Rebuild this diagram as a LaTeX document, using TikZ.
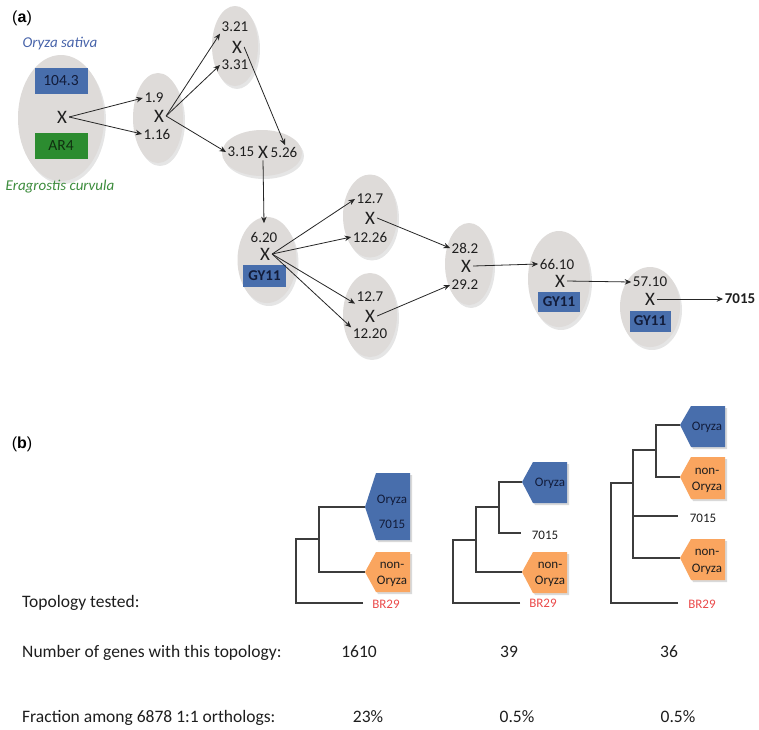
\documentclass[tikz,border=0pt]{standalone}
\usepackage{fontspec}
\setmainfont{Carlito}
\newfontfamily\arialfont{Liberation Sans}
\usetikzlibrary{shapes.geometric,arrows.meta}
\definecolor{ellgray}{RGB}{222,219,217}
\definecolor{boxblue}{RGB}{72,110,172}
\definecolor{navy}{RGB}{18,28,58}
\definecolor{boxgreen}{RGB}{44,140,48}
\definecolor{dkgreen}{RGB}{16,48,16}
\definecolor{orgblue}{RGB}{72,100,170}
\definecolor{egreen}{RGB}{60,140,60}
\definecolor{porange}{RGB}{250,165,95}
\definecolor{brred}{RGB}{235,75,75}
\definecolor{treeline}{RGB}{60,60,60}
\definecolor{txt}{RGB}{30,30,30}
\newcommand\pentshape[5]{%
  \fill[black,opacity=0.15] (#2+2,#3+2) -- (#2+13,#4+2) -- (#2+47,#4+2) -- (#2+47,#5+2) -- (#2+13,#5+2) -- cycle;
  \fill[#1] (#2,#3) -- (#2+11,#4) -- (#2+45,#4) -- (#2+45,#5) -- (#2+11,#5) -- cycle;}
\begin{document}
\begin{tikzpicture}[x=1pt,y=-1pt,
  ell/.style={ellipse, fill=ellgray, inner sep=0pt},
  ellsh/.style={ellipse, fill=black, opacity=0.10, inner sep=0pt},
  num/.style={font=\fontsize{15}{15}\selectfont, inner sep=1.5pt, text=txt},
  cross/.style={font=\fontsize{19}{19}\selectfont, inner sep=2pt, text=txt},
  arr/.style={-{Stealth[length=6.5pt,width=5.5pt]}, line width=0.8pt, black!85},
  gybox/.style={fill=boxblue, text=navy, font=\bfseries\fontsize{15}{15}\selectfont, inner sep=0pt},
  lab/.style={font=\arialfont\fontsize{16}{16}\selectfont, anchor=base, inner sep=0pt},
  row/.style={font=\fontsize{17.5}{17.5}\selectfont, anchor=base west, inner sep=0pt, text=txt},
  rownum/.style={font=\fontsize{17.5}{17.5}\selectfont, anchor=base, inner sep=0pt, text=txt},
  leaf/.style={font=\fontsize{13}{13}\selectfont, anchor=base, inner sep=0pt},
  tree/.style={draw=treeline, line width=1.2pt}
]
\useasboundingbox (0,0) rectangle (759,729);
\fill[white] (0,0) rectangle (759,729);

% ---------- (a) ----------
\node[lab] (la) at (22,22) {(\textbf{a})};

% ellipse shadows
\foreach \cx/\cy/\w/\h in {61/118/86/126, 158/118/50/90, 235/46/46/80, 262/153/80/46,
  267/260/59/86, 370/216/54/83, 370/315/54/84, 469/264/48/82, 559/279/62/96, 650/307/60/80}
  \node[ellsh, minimum width=\w pt, minimum height=\h pt] at (\cx+2,\cy+3) {};

\node[ell, minimum width=86pt, minimum height=126pt] (e1) at (61,118) {};
\node[ell, minimum width=50pt, minimum height=90pt] (e2) at (158,118) {};
\node[ell, minimum width=46pt, minimum height=80pt] (e3) at (235,46) {};
\node[ell, minimum width=80pt, minimum height=46pt] (e4) at (262,153) {};
\node[ell, minimum width=59pt, minimum height=86pt] (e5) at (267,260) {};
\node[ell, minimum width=54pt, minimum height=83pt] (e6) at (370,216) {};
\node[ell, minimum width=54pt, minimum height=84pt] (e7) at (370,315) {};
\node[ell, minimum width=48pt, minimum height=82pt] (e8) at (469,264) {};
\node[ell, minimum width=62pt, minimum height=96pt] (e9) at (559,279) {};
\node[ell, minimum width=60pt, minimum height=80pt] (e10) at (650,307) {};

\node[font=\itshape\fontsize{15}{15}\selectfont, text=orgblue, anchor=base, inner sep=0pt] (os) at (60,47) {Oryza sativa};
\node[font=\itshape\fontsize{15}{15}\selectfont, text=egreen, anchor=base, inner sep=0pt] (ec) at (60,190) {Eragrostis curvula};

\node[fill=boxblue, text=navy, font=\fontsize{15.5}{15.5}\selectfont, minimum width=53pt, minimum height=26pt, inner sep=0pt] (b1) at (61,81) {104.3};
\node[fill=boxgreen, text=dkgreen, font=\fontsize{15.5}{15.5}\selectfont, minimum width=53pt, minimum height=26pt, inner sep=0pt] (b2) at (61,146) {AR4};
\node[cross] (x1) at (62,117) {X};

\node[num] (t19) at (154,98) {1.9};
\node[cross] (x2) at (159,116) {X};
\node[num] (t116) at (157,134) {1.16};

\node[num] (t321) at (235,27) {3.21};
\node[cross] (x3) at (237,47) {X};
\node[num] (t331) at (235,65) {3.31};

\node[num] (t315) at (241,152) {3.15};
\node[cross] (x4) at (263,152) {X};
\node[num] (t526) at (284,152) {5.26};

\node[num] (t620) at (264,237) {6.20};
\node[cross] (x5) at (265,254) {X};
\node[gybox, minimum width=43pt, minimum height=22pt] (g5) at (264.5,276) {GY11};

\node[num] (t127a) at (370,199) {12.7};
\node[cross] (x6) at (370,218) {X};
\node[num] (t1226) at (370,237) {12.26};

\node[num] (t127b) at (370,297) {12.7};
\node[cross] (x7) at (370,316) {X};
\node[num] (t1220) at (370,334) {12.20};

\node[num] (t282) at (465,248) {28.2};
\node[cross] (x8) at (466,266) {X};
\node[num] (t292) at (465,285) {29.2};

\node[num] (t6610) at (557,264) {66.10};
\node[cross] (x9) at (560,281) {X};
\node[gybox, minimum width=42pt, minimum height=20pt] (g9) at (559,302) {GY11};

\node[num] (t5710) at (650,282) {57.10};
\node[cross] (x10) at (650,299) {X};
\node[gybox, minimum width=41pt, minimum height=21pt] (g10) at (650,321) {GY11};

\node[num, font=\bfseries\fontsize{15}{15}\selectfont] (t7015) at (740,299) {7015};

\draw[arr] (x1.east) -- (t19.west);
\draw[arr] (x1.east) -- (t116.west);
\draw[arr] (x2.east) -- (t321.south west);
\draw[arr] (x2.east) -- (t331.west);
\draw[arr] (x2.east) -- (t315.west);
\draw[arr] (x3.east) -- ([xshift=1pt]t526.north);
\draw[arr] (x4.south) -- ([yshift=7pt]t620.north);
\draw[arr] (x5.east) -- (t127a.west);
\draw[arr] (x5.east) -- (t1226.west);
\draw[arr] (x5.east) -- (t127b.south west);
\draw[arr] (x5.east) -- (t1220.north west);
\draw[arr] (x6.east) -- (t282.west);
\draw[arr] (x7.east) -- (t292.west);
\draw[arr] (x8.east) -- (t6610.west);
\draw[arr] (x9.east) -- (t5710.west);
\draw[arr] (x10.east) -- (t7015.west);

% ---------- (b) ----------
\node[lab] (lb) at (22,448) {(\textbf{b})};

% tree 1
\draw[tree] (363,603) -| (296,539) -- (319,539);
\draw[tree] (365,507) -| (319,572) -- (365,572);
\pentshape{boxblue}{365}{507}{473}{540}
\pentshape{porange}{365}{572}{552}{592}
\node[leaf, text=navy] (p1a) at (392,503) {Oryza};
\node[leaf, text=navy] (p1b) at (392,528) {7015};
\node[leaf, text=txt] (p1c) at (392,568) {non-};
\node[leaf, text=txt] (p1d) at (392,584) {Oryza};
\node[leaf, text=brred] (r1) at (386,608) {BR29};

% tree 2
\draw[tree] (520,603) -| (453,540) -- (476,540);
\draw[tree] (499,507) -| (476,572) -- (522,572);
\draw[tree] (522,482) -| (499,533) -- (521,533);
\pentshape{boxblue}{522}{482}{462}{503}
\pentshape{porange}{522}{572}{552}{593}
\node[leaf, text=navy] (p2a) at (550,486) {Oryza};
\node[leaf, text=txt] (p2b) at (545,539) {7015};
\node[leaf, text=txt] (p2c) at (550,568) {non-};
\node[leaf, text=txt] (p2d) at (550,584) {Oryza};
\node[leaf, text=brred] (r2) at (543,607) {BR29};

% tree 3
\draw[tree] (678,603) -| (611,483) -- (633,483);
\draw[tree] (656,450) -| (633,558) -- (680,558);
\draw[tree] (633,516) -- (678,516);
\draw[tree] (680,425) -| (656,477) -- (680,477);
\pentshape{boxblue}{680}{425}{406}{447}
\pentshape{porange}{680}{477}{457}{499}
\pentshape{porange}{680}{558}{539}{580}
\node[leaf, text=navy] (p3a) at (707,430) {Oryza};
\node[leaf, text=txt] (p3b) at (707,474) {non-};
\node[leaf, text=txt] (p3c) at (707,490) {Oryza};
\node[leaf, text=txt] (p3d) at (703,522) {7015};
\node[leaf, text=txt] (p3e) at (707,555) {non-};
\node[leaf, text=txt] (p3f) at (707,572) {Oryza};
\node[leaf, text=brred] (r3) at (702,608) {BR29};

% rows
\node[row] (rw1) at (22,607) {Topology tested:};
\node[row] (rw2) at (22,657) {Number of genes with this topology:};
\node[row] (rw3) at (22,722) {Fraction among 6878 1:1 orthologs:};
\node[rownum] (n1) at (359,657) {1610};
\node[rownum] (n2) at (509,657) {39};
\node[rownum] (n3) at (669,657) {36};
\node[rownum] (f1) at (368,722) {23\%};
\node[rownum] (f2) at (517,722) {0.5\%};
\node[rownum] (f3) at (678,722) {0.5\%};
\end{tikzpicture}
\end{document}
